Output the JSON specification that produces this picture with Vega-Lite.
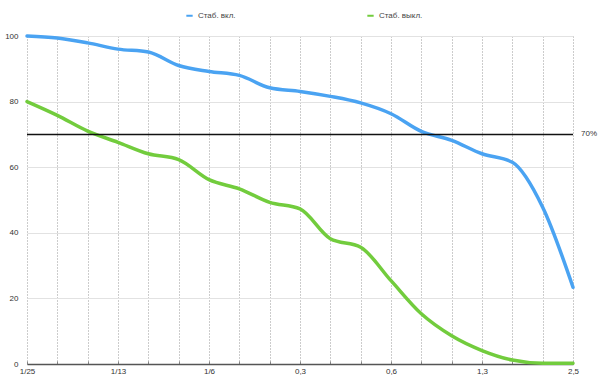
{
  "$schema": "https://vega.github.io/schema/vega-lite/v6.json",
  "width": 546,
  "height": 328,
  "autosize": {"type": "none"},
  "padding": {"left": 27, "top": 36, "right": 27, "bottom": 26},
  "background": "white",
  "config": {
    "font": "Liberation Sans",
    "view": {"stroke": null},
    "axis": {"labelFont": "Liberation Sans", "labelFontSize": 8, "labelColor": "#333"}
  },
  "datasets": {
    "curves": [
      {"x": "1/25", "series": "Стаб. вкл.", "value": 100},
      {"x": "1/20", "series": "Стаб. вкл.", "value": 99.4},
      {"x": "1/15", "series": "Стаб. вкл.", "value": 97.9},
      {"x": "1/13", "series": "Стаб. вкл.", "value": 96.0},
      {"x": "1/10", "series": "Стаб. вкл.", "value": 95.1},
      {"x": "1/8", "series": "Стаб. вкл.", "value": 91.0},
      {"x": "1/6", "series": "Стаб. вкл.", "value": 89.2},
      {"x": "1/5", "series": "Стаб. вкл.", "value": 88.0},
      {"x": "1/4", "series": "Стаб. вкл.", "value": 84.2},
      {"x": "0,3", "series": "Стаб. вкл.", "value": 83.1},
      {"x": "0,4", "series": "Стаб. вкл.", "value": 81.6},
      {"x": "0,5", "series": "Стаб. вкл.", "value": 79.6},
      {"x": "0,6", "series": "Стаб. вкл.", "value": 76.3},
      {"x": "0,8", "series": "Стаб. вкл.", "value": 70.9},
      {"x": "1", "series": "Стаб. вкл.", "value": 68.2},
      {"x": "1,3", "series": "Стаб. вкл.", "value": 64.1},
      {"x": "1,6", "series": "Стаб. вкл.", "value": 61.5},
      {"x": "2", "series": "Стаб. вкл.", "value": 47.8},
      {"x": "2,5", "series": "Стаб. вкл.", "value": 23.4},
      {"x": "1/25", "series": "Стаб. выкл.", "value": 80},
      {"x": "1/20", "series": "Стаб. выкл.", "value": 75.8},
      {"x": "1/15", "series": "Стаб. выкл.", "value": 71.0},
      {"x": "1/13", "series": "Стаб. выкл.", "value": 67.6},
      {"x": "1/10", "series": "Стаб. выкл.", "value": 64.1},
      {"x": "1/8", "series": "Стаб. выкл.", "value": 62.3},
      {"x": "1/6", "series": "Стаб. выкл.", "value": 56.2},
      {"x": "1/5", "series": "Стаб. выкл.", "value": 53.4},
      {"x": "1/4", "series": "Стаб. выкл.", "value": 49.3},
      {"x": "0,3", "series": "Стаб. выкл.", "value": 47.3},
      {"x": "0,4", "series": "Стаб. выкл.", "value": 38.2},
      {"x": "0,5", "series": "Стаб. выкл.", "value": 35.6},
      {"x": "0,6", "series": "Стаб. выкл.", "value": 25.4},
      {"x": "0,8", "series": "Стаб. выкл.", "value": 15.3},
      {"x": "1", "series": "Стаб. выкл.", "value": 8.6},
      {"x": "1,3", "series": "Стаб. выкл.", "value": 4.1},
      {"x": "1,6", "series": "Стаб. выкл.", "value": 1.2},
      {"x": "2", "series": "Стаб. выкл.", "value": 0.2},
      {"x": "2,5", "series": "Стаб. выкл.", "value": 0.2}
    ],
    "ref": [{"x": "2,5", "y": 70, "label": "70%"}]
  },
  "layer": [
    {
      "data": {"name": "curves"},
      "mark": {"type": "line", "interpolate": "monotone", "strokeWidth": 3.5, "strokeCap": "round"},
      "encoding": {
        "x": {
          "field": "x", "type": "ordinal", "sort": null,
          "scale": {"type": "point", "padding": 0, "domain": ["1/25","1/20","1/15","1/13","1/10","1/8","1/6","1/5","1/4","0,3","0,4","0,5","0,6","0,8","1","1,3","1,6","2","2,5"]},
          "axis": {
            "title": null, "labelAngle": 0, "grid": true, "gridColor": "#999", "gridDash": [1, 2], "gridWidth": 1,
            "ticks": true, "tickSize": -3, "tickColor": "#888",
            "domainColor": "#555", "domainWidth": 1.5, "labelPadding": 6,
            "labelExpr": "indexof(['1/25','1/13','1/6','0,3','0,6','1,3','2,5'], datum.value) >= 0 ? datum.label : ''"
          }
        },
        "y": {
          "field": "value", "type": "quantitative",
          "scale": {"domain": [0, 100], "nice": false},
          "axis": {"title": null, "values": [0, 20, 40, 60, 80, 100], "grid": true, "gridColor": "#e2e2e2", "gridWidth": 1, "domain": false, "ticks": false, "labelPadding": 9}
        },
        "color": {
          "field": "series", "type": "nominal",
          "scale": {"domain": ["Стаб. вкл.", "Стаб. выкл."], "range": ["#4aa3f2", "#72cc3d"]},
          "legend": {
            "title": null, "orient": "none", "legendX": 158, "legendY": -25, "direction": "horizontal",
            "symbolType": "stroke", "symbolStrokeWidth": 2, "symbolSize": 40,
            "labelFontSize": 8, "labelColor": "#444", "labelFont": "Liberation Sans", "columnPadding": 127, "labelOffset": 4
          }
        }
      }
    },
    {
      "data": {"name": "ref"},
      "mark": {"type": "rule", "color": "#111", "strokeWidth": 1.5},
      "encoding": {"y": {"field": "y", "type": "quantitative"}}
    },
    {
      "data": {"name": "ref"},
      "mark": {"type": "text", "align": "left", "baseline": "middle", "dx": 8, "fontSize": 8, "color": "#333", "font": "Liberation Sans"},
      "encoding": {
        "x": {"field": "x", "type": "ordinal"},
        "y": {"field": "y", "type": "quantitative"},
        "text": {"field": "label"}
      }
    }
  ]
}
